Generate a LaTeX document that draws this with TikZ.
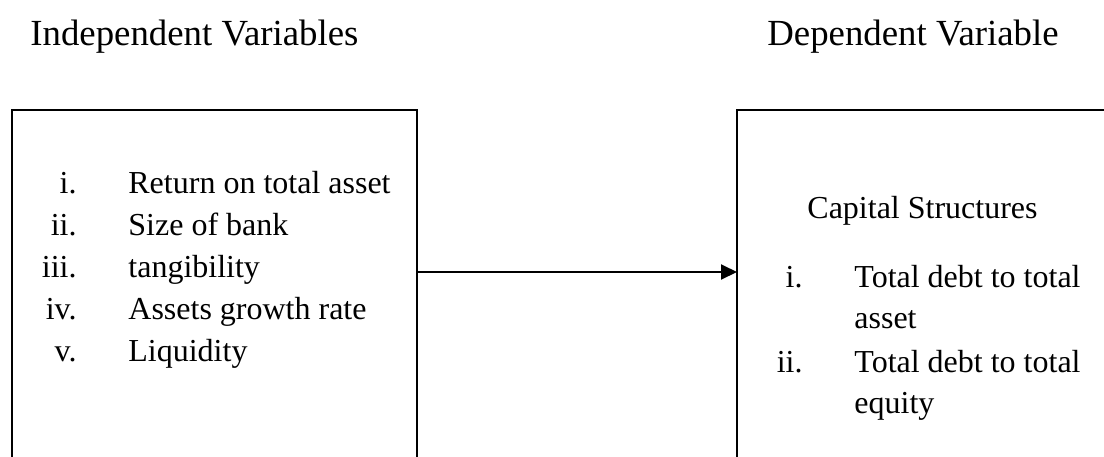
\documentclass[tikz,border=0pt]{standalone}
\usepackage{fontspec}
\setmainfont{Liberation Serif}
\usetikzlibrary{arrows.meta}

\tikzset{
  varbox/.style = {draw, black, line width=1pt, outer sep=0pt, inner sep=0pt},
  heading/.style = {inner sep=0pt, anchor=base west, font=\fontsize{18.4}{22}\selectfont},
  itemtext/.style = {inner sep=0pt, anchor=base west, font=\fontsize{16}{19}\selectfont},
  itemnum/.style = {inner sep=0pt, anchor=base east, font=\fontsize{16}{19}\selectfont},
  link/.style = {line width=1pt, -{Triangle[length=8pt, width=7.5pt]}}
}

\begin{document}
\begin{tikzpicture}[x=0.5pt, y=-0.5pt]
\useasboundingbox (0,0) rectangle (1104,456);
\clip (0,0) rectangle (1104,456);

% titles
\node[heading] (indeptitle) at (30,45) {Independent Variables};
\node[heading] (deptitle) at (767,45) {Dependent Variable};

% boxes
\node[varbox, minimum width=202.5pt, minimum height=180pt] (indepbox) at (214.5,290) {};
\node[varbox, minimum width=186.5pt, minimum height=180pt] (depbox) at (923.5,290) {};

% independent variables
\foreach \num/\txt [count=\k] in {i./Return on total asset, ii./Size of bank, iii./tangibility, iv./Assets growth rate, v./Liquidity}
{
  \node[itemnum] (inum\k) at (77,{193+42.1*(\k-1)}) {\num};
  \node[itemtext] (itxt\k) at (128,{193+42.1*(\k-1)}) {\txt};
}

% dependent variable
\node[itemtext] (captitle) at (807,218) {Capital Structures};
\node[itemnum] (dnum1) at (803,287) {i.};
\node[itemtext] (dtxt1) at (854,287) {Total debt to total};
\node[itemtext] (dtxt1b) at (854,328) {asset};
\node[itemnum] (dnum2) at (803,372) {ii.};
\node[itemtext] (dtxt2) at (854,372) {Total debt to total};
\node[itemtext] (dtxt2b) at (854,413) {equity};

% arrow
\coordinate (arrowlevel) at (577,272);
\draw[link] (indepbox.east |- arrowlevel) -- (depbox.west |- arrowlevel);
\end{tikzpicture}
\end{document}
